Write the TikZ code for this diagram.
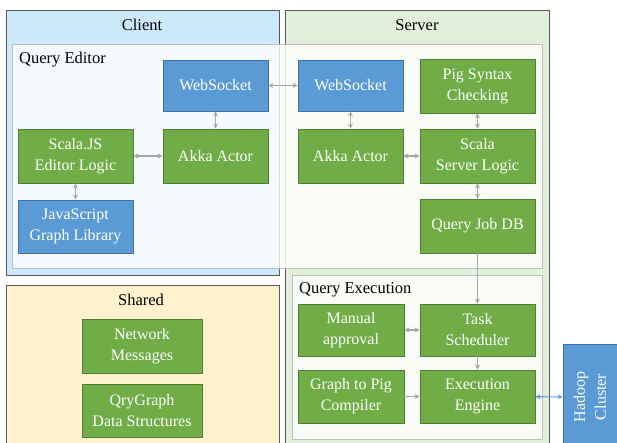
\documentclass[tikz,border=0pt]{standalone}
\usepackage{fontspec}
\setmainfont{Liberation Serif}
\usepackage{xcolor}
\definecolor{nodeblue}{RGB}{91,155,213}
\definecolor{nodeblueline}{RGB}{65,113,156}
\definecolor{nodegreen}{RGB}{112,173,71}
\definecolor{nodegreenline}{RGB}{80,126,50}
\definecolor{clientfill}{RGB}{204,233,252}
\definecolor{serverfill}{RGB}{226,239,218}
\definecolor{sharedfill}{RGB}{255,242,204}
\definecolor{arealine}{RGB}{89,89,89}
\definecolor{innerline}{RGB}{191,191,191}
\definecolor{linkgray}{RGB}{166,166,166}
\usetikzlibrary{arrows.meta,positioning}

\begin{document}
\begin{tikzpicture}[
  x=1pt, y=-1pt,
  comp/.style={
    rectangle, draw, line width=0.8pt,
    minimum width=115pt, minimum height=54pt,
    font=\fontsize{16}{21}\selectfont,
    align=center, text=white, inner sep=2pt
  },
  bluebox/.style={comp, fill=nodeblue, draw=nodeblueline},
  greenbox/.style={comp, fill=nodegreen, draw=nodegreenline},
  area/.style={draw=arealine, line width=1pt},
  inner/.style={draw=innerline, line width=1pt, fill=white, fill opacity=0.8},
  title/.style={font=\fontsize{16.5}{20}\selectfont, text=black, inner sep=0pt},
  both/.style={{Stealth[length=5pt,width=5pt]}-{Stealth[length=5pt,width=5pt]}, line width=1.1pt, draw=linkgray},
  conn/.style={-{Stealth[length=5pt,width=5pt]}, line width=1.1pt, draw=linkgray}
]
\useasboundingbox (0,0) rectangle (617,443);
\clip (0,0) rectangle (617,443);

% outer areas
\draw[area, fill=clientfill] (6,11) rectangle (279,275);
\draw[area, fill=serverfill] (285,11) rectangle (549,460);
\draw[area, fill=sharedfill] (6,285) rectangle (279,460);
\node[title] (tclient) at (142,25) {Client};
\node[title] (tserver) at (417,25) {Server};
\node[title] (tshared) at (141,300) {Shared};

% sub areas
\draw[inner] (12,45) rectangle (542,268);
\draw[inner] (292,275) rectangle (542,439);
\node[title, anchor=west] (teditor) at (19,60) {Query Editor};
\node[title, anchor=west] (texec) at (299,290) {Query Execution};

% client side
\node[bluebox, minimum width=105pt, minimum height=51pt] (cws) at (215.5,85.5) {WebSocket};
\node[greenbox, minimum width=105pt] (cakka) at (215.5,156) {Akka Actor};
\node[greenbox] (edlogic) at (75.5,156) {Scala.JS\\Editor Logic};
\node[bluebox, minimum height=53pt] (jsgraph) at (75.5,226.5) {JavaScript\\Graph Library};

% server side
\node[bluebox, minimum width=105pt, minimum height=51pt] (sws) at (350.5,85.5) {WebSocket};
\node[greenbox] (pigcheck) at (477.5,86) {Pig Syntax\\Checking};
\node[greenbox, minimum width=105pt] (sakka) at (350.5,156) {Akka Actor};
\node[greenbox] (srvlogic) at (477.5,156) {Scala\\Server Logic};
\node[greenbox] (jobdb) at (477.5,226) {Query Job DB};

% shared
\node[greenbox, minimum width=120pt] (netmsg) at (142,346) {Network\\Messages};
\node[greenbox, minimum width=120pt, minimum height=53pt] (qrygraph) at (142,410.5) {QryGraph\\Data Structures};

% query execution
\node[greenbox, minimum width=106pt, minimum height=52pt] (approval) at (351,330) {Manual\\approval};
\node[greenbox, minimum height=52pt] (sched) at (477.5,330) {Task\\Scheduler};
\node[greenbox, minimum width=106pt, minimum height=53pt] (compiler) at (351,396.5) {Graph to Pig\\Compiler};
\node[greenbox, minimum height=53pt] (engine) at (477.5,396.5) {Execution\\Engine};
\node[bluebox, rotate=90, minimum width=105pt, minimum height=54pt] (hadoop) at (590,397) {Hadoop\\Cluster};

% links
\draw[both] (cws) -- (sws);
\draw[both] (cws) -- (cakka);
\draw[both] (edlogic) -- (cakka);
\draw[both] (edlogic) -- (jsgraph);
\draw[both] (sws) -- (sakka);
\draw[both] (sakka) -- (srvlogic);
\draw[both] (pigcheck) -- (srvlogic);
\draw[both] (srvlogic) -- (jobdb);
\draw[conn] (jobdb) -- (sched);
\draw[both] (approval) -- (sched);
\draw[conn] (sched) -- (engine);
\draw[conn] (compiler) -- (engine);
\draw[both, draw=nodeblue] (engine) -- (hadoop);
\end{tikzpicture}
\end{document}
